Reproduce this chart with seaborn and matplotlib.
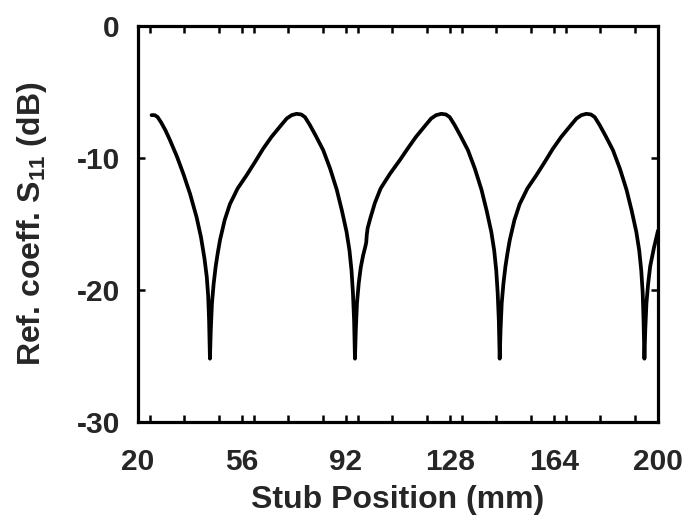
import matplotlib
matplotlib.use('Agg')
import matplotlib.pyplot as plt
from matplotlib.ticker import MultipleLocator, FixedLocator
import seaborn as sns

# Stub position (mm) and reflection coefficient S11 (dB)
stub_mm = [24.7, 25.8, 26.8, 28.0, 29.5, 31.1, 33.5, 35.7, 38.0, 40.3, 41.8, 43.0,
           43.8, 44.3, 44.6, 44.9, 45.2, 45.6, 46.2, 46.9, 47.6, 48.4, 50.0, 51.8,
           54.5, 57.6, 60.5, 63.3, 66.2, 69.2, 71.5, 73.2, 74.9, 76.5, 77.8, 79.5,
           81.5, 84.1, 86.5, 88.8, 90.6, 92.2, 93.2, 93.9, 94.4, 94.8, 95.1,
           95.4, 95.8, 96.4, 97.1, 97.9, 98.7, 99.0, 99.2, 99.5, 100.5, 102.0,
           104.0, 107.2, 110.5, 113.3, 116.2, 119.2, 121.5, 123.2, 125.0, 126.6,
           127.9, 129.6, 131.6, 134.2, 136.6, 138.9, 140.7, 142.3, 143.3, 144.0,
           144.5, 144.9, 145.2,
           145.5, 145.9, 146.5, 147.2, 147.9, 148.7, 150.3, 152.1, 154.8, 157.9,
           160.8, 163.6, 166.5, 169.5, 171.8, 173.5, 175.2, 176.8, 178.1, 179.8,
           181.8, 184.4, 186.8, 189.1, 190.9, 192.5, 193.5, 194.2, 194.7, 195.0,
           195.3, 195.6, 196.0, 196.6, 197.3, 198.6, 200.0]
s11_db = [-6.75, -6.75, -6.9, -7.3, -7.9, -8.66, -9.9, -11.2, -12.7, -14.5, -16.0, -17.6,
          -19.0, -20.5, -22.3, -25.2, -23.0, -21.0, -19.5, -18.2, -17.2, -16.2, -14.7, -13.5,
          -12.3, -11.3, -10.3, -9.3, -8.4, -7.6, -7.0, -6.75, -6.65, -6.7, -6.9, -7.5,
          -8.3, -9.4, -10.8, -12.4, -14.0, -15.6, -17.0, -18.5, -20.2, -22.3, -25.2,
          -23.0, -21.0, -19.5, -18.3, -17.4, -16.7, -16.4, -15.8, -15.3, -14.5, -13.4,
          -12.3, -11.2, -10.2, -9.3, -8.4, -7.6, -7.0, -6.75, -6.65, -6.7,
          -6.9, -7.5, -8.3, -9.4, -10.8, -12.4, -14.0, -15.6, -17.0, -18.5,
          -20.2, -22.3, -25.2,
          -23.0, -21.0, -19.5, -18.2, -17.2, -16.2, -14.7, -13.5, -12.3, -11.3,
          -10.3, -9.3, -8.4, -7.6, -7.0, -6.75, -6.65, -6.7, -6.9, -7.5,
          -8.3, -9.4, -10.8, -12.4, -14.0, -15.6, -17.0, -18.5, -20.2, -22.3,
          -25.2, -23.0, -21.0, -19.5, -18.2, -16.8, -15.5]

x_labels = [20, 56, 92, 128, 164, 200]
y_ticks = [-30, -20, -10, 0]

sns.set_theme(style='ticks')
plt.rcParams['font.family'] = ['Liberation Sans', 'DejaVu Sans']
plt.rcParams['font.weight'] = 'bold'
plt.rcParams['axes.unicode_minus'] = False
plt.rcParams['mathtext.fontset'] = 'custom'
plt.rcParams['mathtext.rm'] = 'Liberation Sans:bold'
plt.rcParams['mathtext.bf'] = 'Liberation Sans:bold'

fig = plt.figure(figsize=(6.89, 5.21), dpi=100)
ax = fig.add_axes([0.2003, 0.190, 0.7547, 0.760])

sns.lineplot(x=stub_mm, y=s11_db, sort=False, estimator=None, color='black',
             linewidth=2.7, ax=ax)
ax.lines[0].set_solid_joinstyle('round')

ax.set_xlim(20, 200)
ax.set_ylim(-30, 0)
ax.xaxis.set_major_locator(FixedLocator(x_labels))
ax.xaxis.set_minor_locator(MultipleLocator(12))
ax.yaxis.set_major_locator(FixedLocator(y_ticks))

for side in ['top', 'right', 'bottom', 'left']:
    ax.spines[side].set_visible(True)
    ax.spines[side].set_linewidth(2.3)
    ax.spines[side].set_color('black')

ax.tick_params(which='both', direction='in', top=True, right=True,
               length=5, width=1.8, color='black')
ax.tick_params(axis='x', which='major', labelsize=21.5, pad=19)
ax.tick_params(axis='y', which='major', labelsize=21.5, pad=13)
for lbl in ax.get_xticklabels() + ax.get_yticklabels():
    lbl.set_fontweight('bold')

ax.set_xlabel('Stub Position (mm)', fontsize=23, fontweight='bold', labelpad=6)
ax.set_ylabel('Ref. coeff. S$_{11}$ (dB)', fontsize=23, fontweight='bold', labelpad=20)

fig.savefig('out.png', dpi=100)
